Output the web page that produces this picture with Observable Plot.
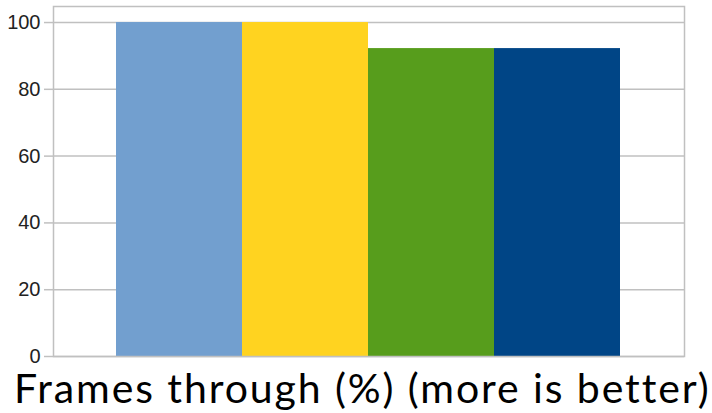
<!DOCTYPE html>
<html>
<head>
<meta charset="utf-8">
<script src="https://cdn.jsdelivr.net/npm/d3@7"></script>
<script src="https://cdn.jsdelivr.net/npm/@observablehq/plot@0.6"></script>
<style>
  html, body { margin: 0; padding: 0; background: #fff; overflow: hidden; }
  #chart { position: relative; width: 712px; height: 413px; }
  #chart svg { position: absolute; left: 0; top: 0; }
  #caption { position: absolute; left: 14px; top: 370px; font-family: Lato, "Open Sans", sans-serif; font-size: 41px; letter-spacing: 1.9px; color: #000; white-space: nowrap; line-height: 36px; }
</style>
</head>
<body>
<div id="chart"></div>
<script>
const series = ["Series 1", "Series 2", "Series 3", "Series 4"];
const values = [100, 100, 92.2, 92.2];
const colors = ["#729fcf", "#ffd320", "#579d1c", "#004586"];
const yTicks = [0, 20, 40, 60, 80, 100];
const captionText = "Frames through (%) (more is better)";
const legendFragment = "1";

const data = series.map((s, i) => ({series: s, value: values[i]}));

const plot = Plot.plot({
  width: 712,
  height: 369,
  marginLeft: 53,
  marginRight: 28,
  marginTop: 6,
  marginBottom: 13,
  style: {fontFamily: "Liberation Sans, Arial, sans-serif", fontSize: "20px", color: "#222"},
  x: {domain: series, range: [115, 620], padding: 0, axis: null},
  y: {domain: [0, 104.8], ticks: yTicks, label: null},
  color: {domain: series, range: colors},
  marks: [
    Plot.gridY(yTicks, {stroke: "#c0c0c0", strokeOpacity: 1, strokeWidth: 1.5}),
    Plot.barY(data, {x: "series", y: "value", fill: "series", inset: 0}),
    Plot.frame({stroke: "#c0c0c0", strokeWidth: 1.5}),
    Plot.axisY(yTicks, {tickSize: 9, tickPadding: 4, stroke: "#c0c0c0", strokeWidth: 1.5, fill: "#222", label: null, fontSize: 20}),
    Plot.text([legendFragment], {frameAnchor: "top-right", dx: 27, dy: 17, text: d => d, fill: "#8a6a1a", fontSize: 16, textAnchor: "start"})
  ]
});

const chart = document.getElementById("chart");
chart.appendChild(plot);
const cap = document.createElement("div");
cap.id = "caption";
cap.textContent = captionText;
chart.appendChild(cap);
</script>
</body>
</html>
